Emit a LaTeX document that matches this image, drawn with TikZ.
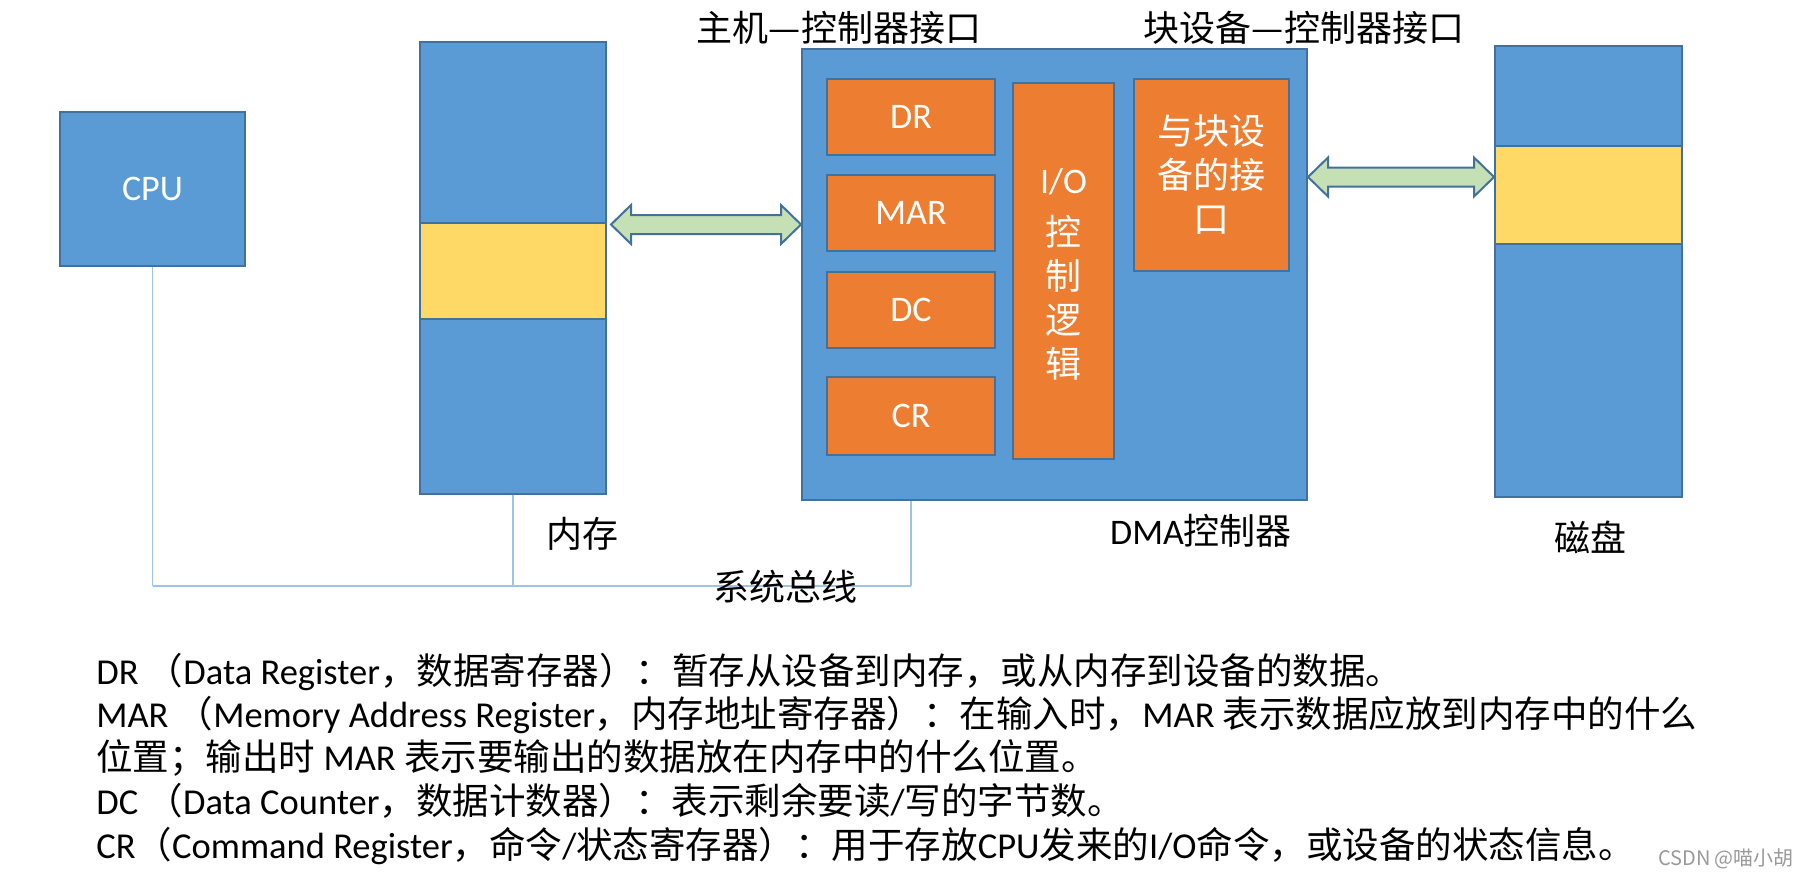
\documentclass[tikz,border=0pt]{standalone}
\usepackage{fontspec}
\setmainfont{Carlito}
\newfontfamily\cjk{Noto Sans CJK SC}
\usetikzlibrary{calc,fit}
\definecolor{blu}{HTML}{5B9BD5}
\definecolor{bord}{HTML}{41719C}
\definecolor{org}{HTML}{ED7D31}
\definecolor{yel}{HTML}{FFD966}
\definecolor{grn}{HTML}{C5E0B4}
\definecolor{busc}{HTML}{9DC3E6}
\newcommand{\fs}{\fontsize{18}{22}\selectfont}
\newcommand{\fsd}{\fontsize{18.25}{22}\selectfont}
\tikzset{
  bluebox/.style={draw=bord, fill=blu, line width=1pt, inner sep=0pt},
  orbox/.style={draw=bord, fill=org, line width=1pt, inner sep=0pt},
  yelbox/.style={draw=bord, fill=yel, line width=0.7pt, inner sep=0pt},
  boxtxt/.style={inner sep=0pt, text=white, font=\fs, align=center},
  lbl/.style={inner sep=0pt, font=\fs\cjk},
  txtline/.style={inner sep=0pt, anchor=base west, font=\fsd},
  arrowst/.style={draw=bord, fill=grn, line width=1pt},
  busv/.style={draw=busc, line width=0.8pt},
  bush/.style={draw=busc, line width=1.3pt},
}
\begin{document}
\begin{tikzpicture}[x=0.5pt,y=-0.5pt]
\useasboundingbox (0,0) rectangle (1814,880);
\coordinate (busy) at (0,586);
% boxes
\node[bluebox, fit={(60,112) (245,266)}] (cpu) {};
\node[boxtxt] (cputxt) at (cpu.center) {CPU};
\node[bluebox, fit={(420,42) (606,494)}] (mem) {};
\node[yelbox, fit={(420,223) (606,319)}] (memy) {};
\node[bluebox, fit={(802,49) (1307,500)}] (dma) {};
\node[orbox, fit={(827,79) (995,155)}] (dr) {};
\node[boxtxt] (drtxt) at (dr.center) {DR};
\node[orbox, fit={(827,175) (995,251)}] (mar) {};
\node[boxtxt] (martxt) at (mar.center) {MAR};
\node[orbox, fit={(827,272) (995,348)}] (dc) {};
\node[boxtxt] (dctxt) at (dc.center) {DC};
\node[orbox, fit={(827,377) (995,455)}] (cr) {};
\node[boxtxt] (crtxt) at (cr.center) {CR};
\node[orbox, fit={(1013,83) (1114,459)}] (io) {};
\node[boxtxt] (iotxt) at ($(io.center)+(0,3)$) {I/O\\[4pt]{\cjk 控}\\{\cjk 制}\\{\cjk 逻}\\{\cjk 辑}};
\node[orbox, fit={(1134,79) (1289,271)}] (bif) {};
\node[boxtxt, font=\fs\cjk] (biftxt) at (bif.center) {与块设\\备的接\\口};
\node[bluebox, fit={(1495,46) (1682,497)}] (disk) {};
\node[yelbox, fit={(1495,146) (1682,244)}] (disky) {};
% bus
\draw[busv] (cpu.south) -- (cpu.south |- busy);
\draw[busv] (mem.south) -- (mem.south |- busy);
\draw[busv] (cr.south |- dma.south) -- (cr.south |- busy);
\draw[bush] (cpu.south |- busy) -- (cr.south |- busy);
% double arrows
\coordinate (a1) at (611,224.5);
\coordinate (a2) at (801,224.5);
\draw[arrowst] (a1) -- ++(20,-19.5) -- ++(0,10) -- ($(a2)+(-20,-9.5)$) -- ++(0,-10) -- (a2) -- ++(-20,19.5) -- ++(0,-10) -- ($(a1)+(20,9.5)$) -- ++(0,10) -- cycle;
\coordinate (a3) at (1308,177);
\coordinate (a4) at (1494,177);
\draw[arrowst] (a3) -- ++(20,-19.5) -- ++(0,10) -- ($(a4)+(-20,-9.5)$) -- ++(0,-10) -- (a4) -- ++(-20,19.5) -- ++(0,-10) -- ($(a3)+(20,9.5)$) -- ++(0,10) -- cycle;
% labels
\node[lbl] (l1) at (839,28) {主机—控制器接口};
\node[lbl] (l2) at (1304,28) {块设备—控制器接口};
\node[lbl] (l3) at (582,534) {内存};
\node[inner sep=0pt, font=\fs] (l4) at (1201,531) {DMA{\cjk 控制器}};
\node[lbl] (l5) at (1590,537) {磁盘};
\node[lbl] (l6) at (785,587) {系统总线};
% description
\node[txtline] (t1) at (96,684) {DR {\cjk （}Data Register{\cjk ，数据寄存器）：暂存从设备到内存，或从内存到设备的数据。}};
\node[txtline] (t2) at (96,727) {MAR {\cjk （}Memory Address Register{\cjk ，内存地址寄存器）：在输入时，}MAR {\cjk 表示数据应放到内存中的什么}};
\node[txtline] (t3) at (96,770) {{\cjk 位置；输出时} MAR {\cjk 表示要输出的数据放在内存中的什么位置。}};
\node[txtline] (t4) at (96,814) {DC {\cjk （}Data Counter{\cjk ，数据计数器）：表示剩余要读}/{\cjk 写的字节数。}};
\node[txtline] (t5) at (96,858) {CR{\cjk （}Command Register{\cjk ，命令}/{\cjk 状态寄存器）：用于存放}CPU{\cjk 发来的}I/O{\cjk 命令，或设备的状态信息。}};
\node[inner sep=0pt, text=gray!80, font=\fontsize{10}{12}\selectfont\cjk] (wm) at (1726,859) {CSDN @喵小胡};
\end{tikzpicture}
\end{document}
